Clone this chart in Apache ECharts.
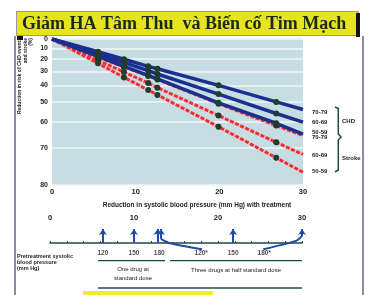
<!DOCTYPE html>
<html>
<head>
<meta charset="utf-8">
<script src="https://cdn.jsdelivr.net/npm/echarts@6/dist/echarts.min.js"></script>
<style>
  html, body { margin: 0; padding: 0; background: #fff; }
  #chart { width: 371px; height: 295px; }
</style>
</head>
<body>
<div id="chart"></div>
<script>
// reduction in systolic BP (mm Hg) where the points sit
const bpReduction = [0, 5.5, 8.6, 11.5, 12.6, 19.9, 26.8, 30];
// reduction in risk (%)
const chd7079 = [0, 13, 20, 26, 28, 40, 50, 54];
const chd6069 = [0, 15.5, 23, 29.5, 32, 45.5, 56, 60];
const chd5059 = [0, 17.5, 26, 33, 35.5, 50.5, 60.5, 65];
const stroke7079 = [0, 18, 26.5, 33.5, 36, 51, 61.5, 65.5];
const stroke6069 = [0, 21, 30.5, 38.5, 41.5, 57, 68, 72];
const stroke5059 = [0, 23.5, 34.5, 43, 46, 62, 73, 77];
const ageGroups = ['70-79', '60-69', '50-59', '70-79', '60-69', '50-59'];

const riskTicks = [0, 10, 20, 30, 40, 50, 60, 70, 80];
const arrowAt = [6.3, 10, 12.8, 13.2, 21.8, 30];
const pretreatAt = [6.3, 10, 13, 18, 21.8, 25.5];
const pretreatLabels = ['120', '150', '180', '120*', '150', '180*'];

// risk axis is logarithmic in relative risk
const toAxis = r => -Math.log10(1 - r / 100);
const fromAxis = v => Math.round((1 - Math.pow(10, -v)) * 100);

const myChart = echarts.init(document.getElementById('chart'));

const ink = '#1b1f1a';
const teal = '#1c4a4a';
const mk = vals => vals.map((v, i) => [bpReduction[i], toAxis(v)]);
const lastIdx = bpReduction.length - 1;

function riskLine(name, vals, idx, isStroke, dy) {
  return {
    name: name,
    type: 'line',
    xAxisIndex: 0,
    yAxisIndex: 0,
    data: mk(vals),
    showSymbol: true,
    showAllSymbol: true,
    symbol: (v, p) => (p.dataIndex === 0 || p.dataIndex === lastIdx ? 'none' : 'circle'),
    symbolSize: 6,
    itemStyle: { color: '#1f3d2c' },
    lineStyle: isStroke
      ? { color: '#e8313a', width: 3, type: [4, 1.6] }
      : { color: '#1b2f8f', width: 3.5 },
    endLabel: {
      show: true,
      formatter: ageGroups[idx],
      fontSize: 6,
      fontWeight: 'bold',
      fontFamily: 'Liberation Sans',
      color: ink,
      offset: [1, dy]
    },
    silent: true,
    z: isStroke ? 3 : 4
  };
}

function underlay(vals) {
  return {
    type: 'line',
    data: mk(vals),
    symbol: 'none',
    lineStyle: { color: '#f5c4c4', width: 3 },
    silent: true,
    z: 2
  };
}

const option = {
  animation: false,
  grid: [
    { left: 52, right: 68, top: 39, bottom: 110, show: true, backgroundColor: '#c6dde3', borderWidth: 0 },
    { left: 50, right: 69, top: 229, height: 14 }
  ],
  xAxis: [
    {
      gridIndex: 0, type: 'value', min: 0, max: 30, interval: 10,
      axisLine: { show: false }, axisTick: { show: false }, splitLine: { show: false },
      axisLabel: { fontSize: 7.5, fontWeight: 'bold', fontFamily: 'Liberation Sans', color: ink, margin: 3 }
    },
    {
      gridIndex: 1, type: 'value', min: 0, max: 30, interval: 10, position: 'top',
      axisLine: { show: true, lineStyle: { color: teal, width: 1.5 } },
      axisTick: { show: true, length: 2, lineStyle: { color: teal } },
      minorTick: { show: true, splitNumber: 5, length: 2, lineStyle: { color: teal } },
      splitLine: { show: false },
      axisLabel: { fontSize: 7.5, fontWeight: 'bold', fontFamily: 'Liberation Sans', color: ink, margin: 7 }
    }
  ],
  yAxis: [
    {
      gridIndex: 0, type: 'value', inverse: true, min: 0, max: toAxis(80),
      axisLine: { show: false },
      axisTick: { show: false, customValues: riskTicks.map(toAxis) },
      splitLine: { show: true, lineStyle: { color: '#eef6f7', width: 1.5 } },
      axisLabel: {
        customValues: riskTicks.map(toAxis),
        formatter: v => String(fromAxis(v)),
        fontSize: 7, fontWeight: 'bold', fontFamily: 'Liberation Sans', color: ink, margin: 4
      }
    },
    { gridIndex: 1, type: 'value', min: 0, max: 1, show: false }
  ],
  series: [
    underlay(stroke7079), underlay(stroke6069), underlay(stroke5059),
    riskLine('Stroke 70-79', stroke7079, 3, true, 1.5),
    riskLine('Stroke 60-69', stroke6069, 4, true, 1),
    riskLine('Stroke 50-59', stroke5059, 5, true, -0.5),
    riskLine('CHD 70-79', chd7079, 0, false, 3),
    riskLine('CHD 60-69', chd6069, 1, false, 0),
    riskLine('CHD 50-59', chd5059, 2, false, -1.5),
    {
      type: 'lines',
      coordinateSystem: 'cartesian2d',
      xAxisIndex: 1, yAxisIndex: 1,
      symbol: ['none', 'arrow'],
      symbolSize: 6,
      lineStyle: { color: '#1f4aa6', width: 2, opacity: 1 },
      clip: false,
      data: arrowAt.map((x, i) => ({
        coords: [[x, i === 3 ? 0.3 : (i === 5 ? 0.5 : 0)], [x, 1]]
      })),
      silent: true
    },
    {
      type: 'line', xAxisIndex: 1, yAxisIndex: 1, symbol: 'none', clip: false, smooth: 0.2,
      lineStyle: { color: '#1f4aa6', width: 2 },
      data: [[13.2, 0.3], [14.2, 0], [18.1, -0.45]], silent: true
    },
    {
      type: 'line', xAxisIndex: 1, yAxisIndex: 1, symbol: 'none', clip: false, smooth: 0.2,
      lineStyle: { color: '#1f4aa6', width: 2 },
      data: [[25.4, -0.45], [29.3, 0.15], [30, 0.5]], silent: true
    },
    {
      type: 'scatter', xAxisIndex: 1, yAxisIndex: 1, clip: false,
      symbolSize: 1, itemStyle: { color: 'rgba(0,0,0,0)' },
      data: pretreatAt.map(x => [x, -0.7]),
      label: {
        show: true, position: 'inside',
        formatter: p => pretreatLabels[p.dataIndex],
        fontSize: 6.5, fontWeight: 'bold', fontFamily: 'Liberation Sans', color: ink
      },
      silent: true
    }
  ],
  graphic: [
    // frame
    { type: 'line', shape: { x1: 15, y1: 36, x2: 15, y2: 295 }, style: { stroke: '#8c88aa', lineWidth: 2 } },
    { type: 'line', shape: { x1: 363, y1: 36, x2: 363, y2: 295 }, style: { stroke: '#8c88aa', lineWidth: 2 } },
    // title banner
    { type: 'rect', shape: { x: 16.5, y: 11.5, width: 342, height: 24 }, style: { fill: '#e6e41f', stroke: '#9a96a8', lineWidth: 1 } },
    { type: 'rect', shape: { x: 356, y: 13, width: 4, height: 24 }, style: { fill: '#111' } },
    { type: 'rect', shape: { x: 17, y: 36, width: 6, height: 4 }, style: { fill: '#111' } },
    {
      type: 'text', x: 22, y: 24,
      style: {
        text: 'Giảm HA Tâm Thu  và Biến cố Tim Mạch',
        fill: '#1c2a14', font: 'bold 18px "Liberation Serif"', textVerticalAlign: 'middle'
      }
    },
    // y axis title
    {
      type: 'text', x: 17, y: 38, rotation: Math.PI / 2,
      style: {
        text: 'Reduction in risk of CHD events\nand stroke\n(%)',
        fill: ink, font: 'bold 5px "Liberation Sans"', lineHeight: 5.5,
        textAlign: 'right', textVerticalAlign: 'top'
      }
    },
    // x axis title
    {
      type: 'text', x: 197, y: 205,
      style: {
        text: 'Reduction in systolic blood pressure (mm Hg) with treatment',
        fill: ink, font: 'bold 6.5px "Liberation Sans"', textAlign: 'center', textVerticalAlign: 'middle'
      }
    },
    // right braces
    {
      type: 'polyline',
      shape: { points: [[335, 107], [338.3, 108.5], [338.3, 134], [341, 137], [338.3, 140], [338.3, 170], [335, 172]] },
      style: { stroke: teal, lineWidth: 1.5, fill: null }
    },
    { type: 'text', x: 342, y: 121, style: { text: 'CHD', fill: ink, font: 'bold 6px "Liberation Sans"', textVerticalAlign: 'middle' } },
    { type: 'text', x: 342, y: 158, style: { text: 'Stroke', fill: ink, font: 'bold 6px "Liberation Sans"', textVerticalAlign: 'middle' } },
    // pretreatment block
    {
      type: 'text', x: 17, y: 253,
      style: {
        text: 'Pretreatment systolic\nblood pressure\n(mm Hg)',
        fill: ink, font: 'bold 5.5px "Liberation Sans"', lineHeight: 6, textVerticalAlign: 'top'
      }
    },
    { type: 'line', shape: { x1: 98, y1: 260.7, x2: 165, y2: 260.7 }, style: { stroke: teal, lineWidth: 1.2 } },
    { type: 'line', shape: { x1: 170, y1: 260.7, x2: 302, y2: 260.7 }, style: { stroke: teal, lineWidth: 1.2 } },
    {
      type: 'text', x: 133, y: 265,
      style: { text: 'One drug at\nstandard dose', fill: ink, font: '6px "Liberation Sans"', lineHeight: 9, textAlign: 'center', textVerticalAlign: 'top' }
    },
    {
      type: 'text', x: 236, y: 270,
      style: { text: 'Three drugs at half standard dose', fill: ink, font: '6px "Liberation Sans"', textAlign: 'center', textVerticalAlign: 'middle' }
    },
    { type: 'line', shape: { x1: 98, y1: 288, x2: 302, y2: 288 }, style: { stroke: teal, lineWidth: 1.5 } },
    { type: 'rect', shape: { x: 83, y: 291, width: 130, height: 4 }, style: { fill: '#eeee2a' } }
  ]
};

myChart.setOption(option);
</script>
</body>
</html>
